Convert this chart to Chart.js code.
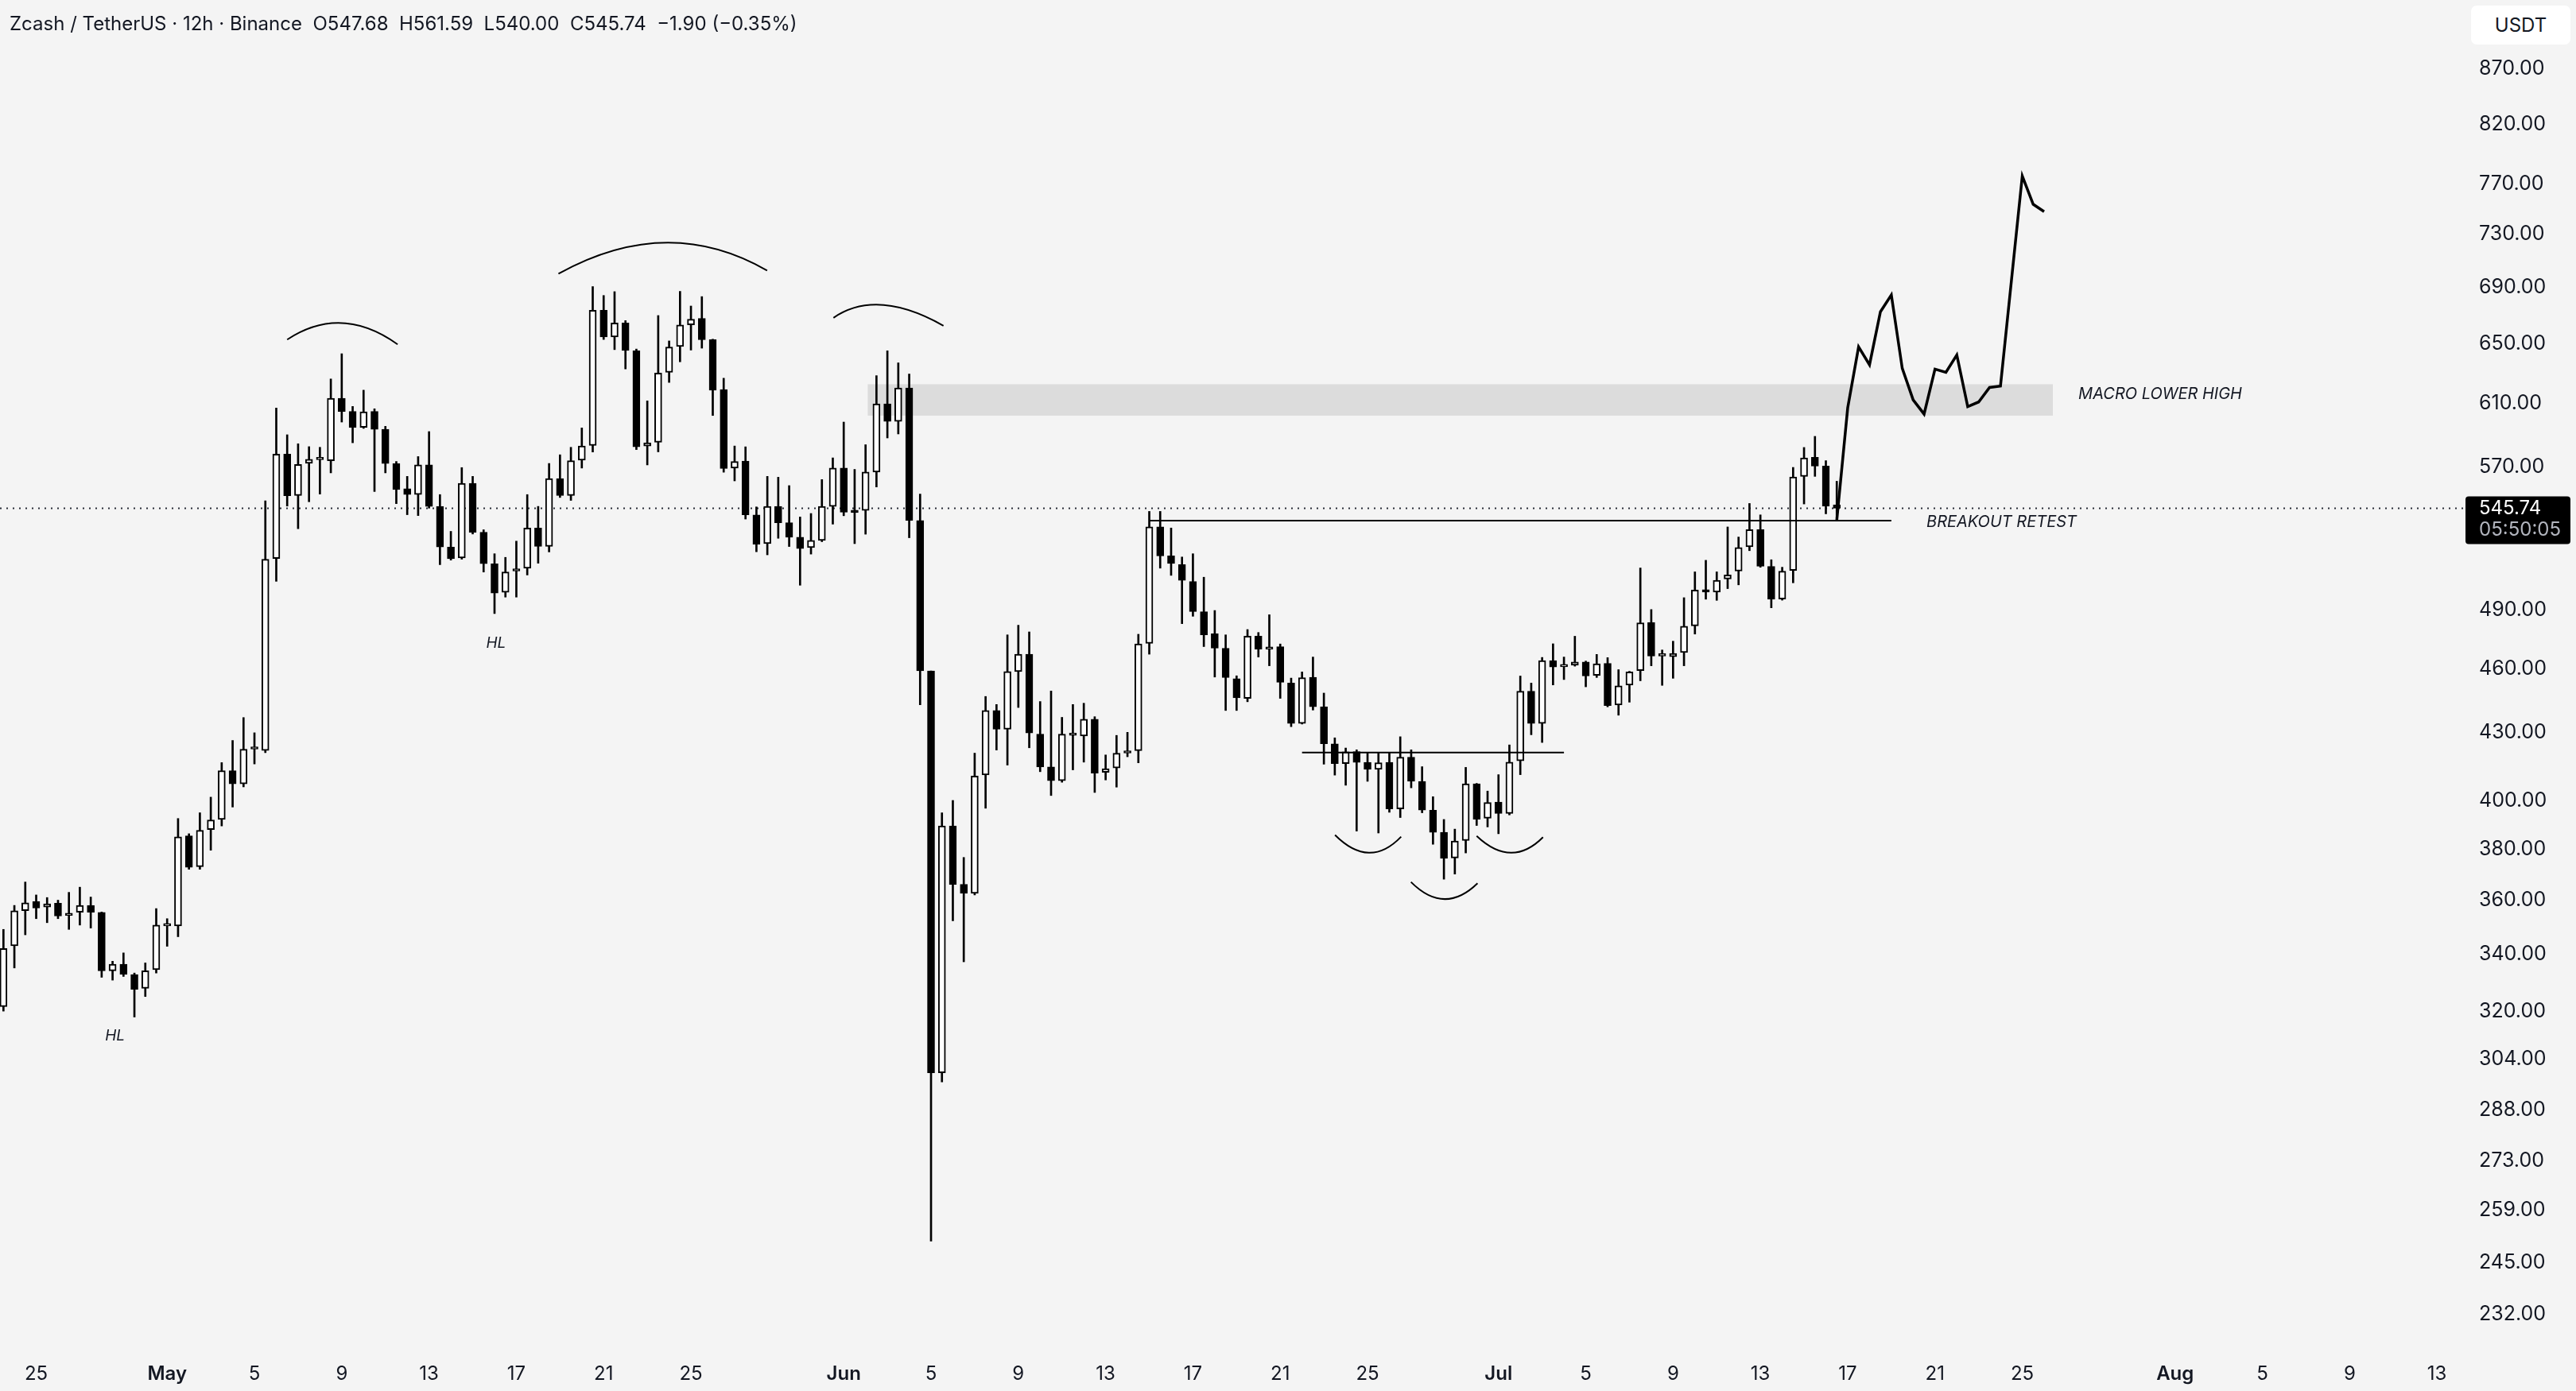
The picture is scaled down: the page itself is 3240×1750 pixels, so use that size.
<!DOCTYPE html>
<html>
<head>
<meta charset="utf-8">
<script src="https://cdn.jsdelivr.net/npm/chart.js@4.4.0/dist/chart.umd.min.js"></script>
<style>
  html, body { margin: 0; padding: 0; background: #f4f4f4; }
  #wrap { position: relative; width: 3240px; height: 1750px; }
  #chart { position: absolute; left: 0; top: 0; }
  #header { position: absolute; left: 12px; top: 16px; font: 24px Inter, "Noto Sans", sans-serif; line-height: 28px; color: #131722; white-space: pre; }
  #unit { position: absolute; left: 3108px; top: 7px; width: 125px; height: 49px; background: #fff; border-radius: 7px;
          font: 24px Inter, sans-serif; color: #131722; display: flex; align-items: center; justify-content: center; }
</style>
</head>
<body>
<div id="wrap">
  <canvas id="chart" width="3240" height="1750"></canvas>
  <div id="header">Zcash / TetherUS · 12h · Binance  O547.68  H561.59  L540.00  C545.74  −1.90 (−0.35%)</div>
  <div id="unit">USDT</div>
</div>
<script>
// days are counted from Apr 1 00:00, one candle every 12h
const firstCandleDay = 22.5;
const candleStep = 0.5;

const opens = [
  321.5, 343, 356, 359.5, 357.4, 358.8, 354.2, 355.4, 358, 355.4,
  334, 336.3, 332.7, 327.8, 334.4, 350.3, 350.3, 385.4, 373, 388,
  392.2, 413, 407.3, 422.6, 422, 517.4, 578, 553.2, 572.4, 574.6,
  574, 613.3, 604.8, 594.7, 604.8, 593.4, 572.2, 557.2, 553.7, 571.4,
  546.8, 523.7, 517.7, 560.4, 532, 514.5, 499.1, 510.5, 512.1, 534.4,
  524.1, 563.2, 553.2, 574.3, 583.3, 673.4, 654.5, 664.4, 645, 583,
  585.3, 630.4, 648, 663, 667.6, 652.6, 619, 569.5, 573.8, 541.9,
  525.6, 546.8, 537.4, 529.2, 523.4, 527.4, 546.8, 569.5, 544.2, 544.5,
  567.1, 609.7, 598.4, 620, 538.7, 459.2, 299.7, 389.5, 366.1, 362.6,
  411.2, 440.3, 431.6, 458.9, 467.4, 429.4, 414.7, 408.7, 428.8, 428.5,
  436.2, 412.3, 414.2, 420.8, 421.9, 472.8, 535.1, 518.8, 514, 504.9,
  489, 477.7, 470.4, 455.4, 446, 476.4, 469.9, 471.1, 453.3, 434.3,
  456.1, 442, 425, 416.2, 421.5, 416.7, 413.6, 416.7, 396.6, 419,
  408.4, 396.1, 386.9, 376.5, 383.5, 407.3, 392.7, 399.5, 394.7, 417.4,
  449.4, 434.3, 464.2, 461.2, 462, 463.6, 457, 462.9, 442.9, 452.3,
  459.3, 483.4, 466.5, 466.2, 468.2, 481.7, 500.3, 499.3, 506.3, 510.5,
  523.8, 533.5, 513.1, 495.6, 510.9, 564.5, 576, 570.7, 547.68
];
const highs = [
  349, 358, 367, 362, 361, 360, 363, 365, 361.2, 355.5,
  337.4, 340.4, 333.2, 336.8, 356.8, 353, 392.6, 386.3, 395, 401.6,
  416.6, 426.5, 437, 430, 550, 607, 590, 584.4, 582.6, 582.2,
  626, 643, 608, 618.6, 606.5, 595.3, 573.5, 564.5, 576.5, 592,
  553.7, 532.5, 569.8, 564.5, 533.4, 520, 518, 527, 553.7, 546.8,
  572.3, 577.6, 582.2, 594.3, 690.5, 684, 686.8, 666, 646.2, 611.6,
  669.6, 651.8, 687, 676.4, 683.2, 653, 626.5, 583, 582.5, 546.5,
  564.5, 564, 559, 540.7, 542.7, 562.6, 575.7, 598, 568.7, 583.8,
  628.2, 645, 636.8, 629.3, 554, 459.2, 395, 400.2, 376.7, 420.8,
  446.9, 443.1, 477.1, 482, 478.6, 444.5, 449.5, 437.1, 443.1, 443.7,
  437.4, 420, 428.8, 430.2, 477.4, 543.9, 543.9, 534.4, 518.2, 520,
  507.2, 489.6, 477.1, 456.8, 479.8, 478.3, 487.4, 472.5, 455.7, 458.7,
  466, 448.5, 427.7, 423.1, 422.3, 420.9, 420.9, 420.9, 428.2, 422.3,
  414.8, 401.8, 392.2, 388.2, 414.5, 407.5, 404.2, 411.3, 424.5, 456.7,
  453.3, 465.8, 472.6, 466, 476.4, 464, 467.3, 465.7, 459.8, 459,
  512.2, 490.1, 469.5, 473.9, 496.3, 510.1, 516.4, 510.1, 535, 529.3,
  548.5, 541.9, 516.7, 512.6, 569.9, 582.1, 589, 574, 561.59
];
const lows = [
  320, 335, 347, 353, 351.5, 353, 349, 350.6, 349.5, 331.7,
  330.7, 332, 318, 325, 333.2, 342.8, 346.3, 372, 372, 379.6,
  389.5, 397.4, 406, 416, 421, 505, 547, 534, 549.5, 554,
  566.6, 598, 585, 594, 555.5, 566.6, 548.4, 542, 541.5, 545.8,
  514, 516.5, 517, 531, 510, 488, 496.6, 496.6, 508.4, 514.8,
  521, 552, 550.3, 569.5, 579.3, 652.8, 645.8, 632.7, 580.8, 571.4,
  579.4, 623.7, 637.5, 645.5, 646.8, 602.2, 567, 561.8, 539.5, 521.1,
  519.4, 528.6, 524, 502.9, 519.8, 526.7, 536.6, 541.4, 525.6, 530.9,
  558.2, 588, 590.5, 528.9, 443, 250.7, 296.8, 352.2, 337.2, 362,
  396.9, 422.2, 415.5, 441.7, 423.2, 412.6, 402.3, 408, 413.4, 416.8,
  403.6, 409, 405.9, 419.2, 416.5, 467.4, 512.1, 508.2, 482.8, 486.6,
  471.2, 456.2, 440.3, 440.3, 444.4, 466, 461.7, 446, 432.8, 434,
  440.5, 415.9, 411.1, 406.7, 387.4, 408.4, 386.6, 395.2, 393, 405.6,
  395, 382, 368.1, 370.1, 378.5, 389.7, 389.1, 386.3, 394.1, 411.3,
  429.1, 425.6, 452.4, 455, 461.5, 451.5, 456, 442, 438.1, 444.2,
  454.4, 461.7, 452.2, 455.6, 461.7, 477.5, 495.5, 494.9, 501.1, 503.1,
  521.7, 512.6, 491, 495, 504.2, 548.2, 564.5, 542.5, 540.00
];
const closes = [
  342, 356, 359, 357, 358.6, 354, 355, 358, 355.4, 334,
  336.3, 332.7, 327.5, 334, 350.6, 350.6, 385, 372.8, 387.7, 392,
  413, 407.3, 422.6, 423.2, 517, 578, 553, 571.7, 574.8, 575,
  613.3, 604.8, 594.7, 604.5, 593.4, 572.2, 556.7, 553.7, 571.4, 546.8,
  523.7, 517.3, 560.4, 532, 514.5, 498.7, 510, 511.6, 534.4, 524.1,
  563.2, 553.2, 574, 583, 673.4, 654.5, 664.4, 645.2, 582.5, 585,
  630, 647.6, 663, 667, 652.6, 618.6, 569.2, 573.5, 541.9, 525.3,
  546.8, 537.4, 529.2, 522.9, 527.4, 546.8, 569.5, 543.4, 543.2, 567.1,
  609.7, 598.4, 620, 538.7, 459.2, 299.7, 389.5, 366.1, 362.6, 410.7,
  440.3, 431.6, 458.9, 467.4, 429.9, 414.7, 408.7, 429.4, 429.4, 436.2,
  412, 413.9, 420.8, 421.3, 472.5, 535.1, 518.8, 514.6, 505.5, 489,
  477.1, 470.4, 456, 446.3, 476.4, 469.9, 470.8, 453.7, 434.3, 455.9,
  442, 425, 416.2, 421.4, 416.7, 413.6, 416.5, 396.6, 419, 408.4,
  396.1, 386.9, 376.3, 383.3, 407.3, 392.3, 399.3, 394.7, 416.8, 449.4,
  434.3, 464.2, 461.1, 461.6, 463.6, 456.7, 462.7, 442.6, 452, 458.7,
  483.2, 466.5, 466.6, 467.8, 481.5, 500.3, 499.3, 505.5, 508.4, 523.4,
  533.5, 513.1, 495.5, 510.5, 564.2, 575.7, 570.7, 547, 545.74
];

// hand drawn projection after the last candle
const projDays = [106.5, 107, 107.5, 108, 108.5, 109, 109.5, 110, 110.5, 111, 111.5, 112, 112.5, 113, 113.5, 114, 115, 115.5, 116];
const projPrices = [538.8, 607, 647.7, 635.5, 672.3, 684.4, 633.1, 612.2, 603.1, 632.6, 630.4, 642.1, 607.9, 610.9, 620.4, 621.3, 776.5, 753.5, 747.7];

// horizontal levels: [fromDay, toDay, price]
const retestLine = [75, 109, 538.6];
const neckLine = [82, 94, 421.1];
const zoneDays = [62.1, 116.4];
const zonePrices = [602.1, 622.5];

// arcs, each three points [day, price]
const arcs = [
  [[35.5, 652.7], [38.0, 664.3], [40.56, 649.4]],
  [[47.93, 700], [52.82, 723.5], [57.49, 702.4]],
  [[60.53, 668], [62.78, 677.2], [65.57, 662.4]],
  [[83.51, 385.8], [85.06, 378.6], [86.54, 385.1]],
  [[86.99, 367], [88.52, 360.4], [90.04, 366.5]],
  [[90.0, 385.4], [91.56, 378.6], [93.04, 384.9]]
];

const notes = [
  { text: "HL", day: 27.61, price: 311.6, align: "center" },
  { text: "HL", day: 45.07, price: 472.8, align: "center" },
  { text: "MACRO LOWER HIGH", day: 117.57, price: 615.8, align: "left" },
  { text: "BREAKOUT RETEST", day: 110.61, price: 537.5, align: "left" }
];

const xTickDays = [24, 30, 34, 38, 42, 46, 50, 54, 61, 65, 69, 73, 77, 81, 85, 91, 95, 99, 103, 107, 111, 115, 122, 126, 130, 134];
const xTickLabels = ["25", "May", "5", "9", "13", "17", "21", "25", "Jun", "5", "9", "13", "17", "21", "25", "Jul", "5", "9", "13", "17", "21", "25", "Aug", "5", "9", "13"];
const yTickValues = [232, 245, 259, 273, 288, 304, 320, 340, 360, 380, 400, 430, 460, 490, 570, 610, 650, 690, 730, 770, 820, 870];
const countdown = "05:50:05";

const months = new Set(["May", "Jun", "Jul", "Aug"]);
const ink = "#131722";
const days = opens.map((_, i) => firstCandleDay + i * candleStep);
const lastPrice = closes[closes.length - 1];

const bodies = days.map((d, i) => ({ x: d, y: [Math.min(opens[i], closes[i]), Math.max(opens[i], closes[i])] }));
const wicks = days.map((d, i) => ({ x: d, y: [lows[i], highs[i]] }));
const bodyColors = closes.map((c, i) => (c >= opens[i] ? "#ffffff" : "#000000"));
const hLine = l => [{ x: l[0], y: l[2] }, { x: l[1], y: l[2] }];

// keep the plot area flush with the canvas edges, like the screenshot
const noPad = s => { s.paddingTop = 0; s.paddingBottom = 0; s.paddingLeft = 0; s.paddingRight = 0; };

const overlay = {
  id: "overlay",
  beforeDatasetsDraw(chart) {
    const { ctx, chartArea: a, scales: { x, y } } = chart;
    ctx.save();
    const zx0 = x.getPixelForValue(zoneDays[0]), zx1 = x.getPixelForValue(zoneDays[1]);
    const zy0 = y.getPixelForValue(zonePrices[1]), zy1 = y.getPixelForValue(zonePrices[0]);
    ctx.fillStyle = "#dcdcdc";
    ctx.fillRect(zx0, zy0, zx1 - zx0, zy1 - zy0);

    const py = Math.round(y.getPixelForValue(lastPrice)) + 0.5;
    ctx.strokeStyle = "#2a2e39";
    ctx.lineWidth = 2;
    ctx.setLineDash([2, 6]);
    ctx.beginPath();
    ctx.moveTo(a.left, py);
    ctx.lineTo(a.right, py);
    ctx.stroke();
    ctx.restore();
  },
  afterDatasetsDraw(chart) {
    const { ctx, scales: { x, y } } = chart;
    ctx.save();
    ctx.strokeStyle = "#000";
    ctx.lineWidth = 2;
    arcs.forEach(arc => {
      const p = arc.map(([d, v]) => [x.getPixelForValue(d), y.getPixelForValue(v)]);
      const cx = 2 * p[1][0] - (p[0][0] + p[2][0]) / 2;
      const cy = 2 * p[1][1] - (p[0][1] + p[2][1]) / 2;
      ctx.beginPath();
      ctx.moveTo(p[0][0], p[0][1]);
      ctx.quadraticCurveTo(cx, cy, p[2][0], p[2][1]);
      ctx.stroke();
    });

    ctx.fillStyle = ink;
    ctx.textBaseline = "middle";
    notes.forEach(n => {
      ctx.font = n.text === "HL" ? "italic 19px Inter" : "italic 20px Inter";
      ctx.textAlign = n.align;
      ctx.fillText(n.text, x.getPixelForValue(n.day), y.getPixelForValue(n.price));
    });
    ctx.restore();
  },
  afterDraw(chart) {
    const { ctx, scales: { y } } = chart;
    const py = y.getPixelForValue(lastPrice);
    ctx.save();
    ctx.fillStyle = "#000";
    ctx.beginPath();
    ctx.roundRect(y.left + 1, py - 15, 132, 60, 4);
    ctx.fill();
    ctx.font = "24px Inter";
    ctx.textAlign = "left";
    ctx.textBaseline = "middle";
    ctx.fillStyle = "#ffffff";
    ctx.fillText(lastPrice.toFixed(2), y.left + 18, py);
    ctx.fillStyle = "#b2b5be";
    ctx.fillText(countdown, y.left + 18, py + 27);
    ctx.restore();
  }
};

new Chart(document.getElementById("chart"), {
  type: "bar",
  data: {
    datasets: [
      { type: "line", data: projDays.map((d, i) => ({ x: d, y: projPrices[i] })), borderColor: "#000", borderWidth: 3.5,
        pointRadius: 0, tension: 0, order: -2 },
      { type: "line", data: hLine(retestLine), borderColor: "#000", borderWidth: 2, pointRadius: 0, order: -1 },
      { type: "line", data: hLine(neckLine), borderColor: "#000", borderWidth: 2, pointRadius: 0, order: -1 },
      { type: "bar", data: bodies, backgroundColor: bodyColors, borderColor: "#000", borderWidth: 2, borderSkipped: false,
        barThickness: 9, minBarLength: 3, grouped: false, order: 0 },
      { type: "bar", data: wicks, backgroundColor: "#000", barThickness: 2, grouped: false, order: 1 }
    ]
  },
  options: {
    responsive: false,
    animation: false,
    devicePixelRatio: 1,
    layout: { padding: 0 },
    plugins: { legend: { display: false }, tooltip: { enabled: false } },
    scales: {
      x: {
        type: "linear", min: 22.342, max: 135.27, bounds: "data", offset: false,
        grid: { display: false, drawTicks: false, offset: false }, border: { display: false },
        afterBuildTicks: s => { s.ticks = xTickDays.map(v => ({ value: v })); },
        afterFit: s => { s.height = 52; noPad(s); },
        ticks: {
          autoSkip: false, maxRotation: 0, padding: 16, color: ink,
          font: c => ({ family: "Inter", size: 24, weight: months.has(xTickLabels[c.index]) ? "600" : "400" }),
          callback: (v, i) => xTickLabels[i]
        }
      },
      y: {
        type: "logarithmic", position: "right", min: 223.4, max: 936, bounds: "data",
        grid: { display: false, drawTicks: false }, border: { display: false },
        afterBuildTicks: s => { s.ticks = yTickValues.map(v => ({ value: v })); },
        afterFit: s => { s.width = 140; noPad(s); },
        ticks: { autoSkip: false, padding: 18, color: ink, font: { family: "Inter", size: 25 }, callback: v => Number(v).toFixed(2) }
      }
    }
  },
  plugins: [overlay]
});
</script>
</body>
</html>
